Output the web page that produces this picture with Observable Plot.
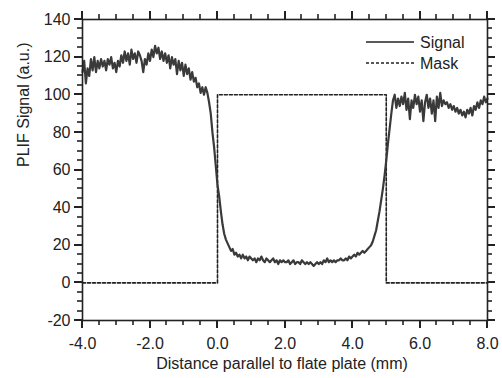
<!DOCTYPE html>
<html>
<head>
<meta charset="utf-8">
<script src="https://cdn.jsdelivr.net/npm/d3@7"></script>
<script src="https://cdn.jsdelivr.net/npm/@observablehq/plot@0.6"></script>
<style>
  html, body { margin: 0; padding: 0; background: #fff; }
  #chart { width: 502px; height: 378px; }
</style>
</head>
<body>
<div id="chart"></div>
<script>
// ---- data ----
const signalStart = -4.0;   // mm, first sample
const signalStep = 0.05;    // mm between samples
const signalY = [
  // -4.00 .. -0.05
  112,118,106,114,110,119,113,120,112,118,
  114,119,115,118,113,119,116,120,114,117,
  112,118,115,121,117,123,118,122,116,124,
  119,122,117,123,121,118,112,119,116,122,
  118,124,120,126,122,125,119,123,118,122,
  117,121,114,120,116,119,111,118,113,117,
  110,116,111,114,108,112,107,109,104,106,
  101,104,100,104,101,96,90,80,72,62,
  // 0.00 .. 1.00
  52,46,38,31,26,23,21,19,17,18,15,16,14,15,13,15,13,14,12,14,13,
  // 1.05 .. 2.00
  12,13,11,13,12,14,12,11,13,12,11,12,13,11,12,10,12,11,12,11,
  // 2.05 .. 3.00
  11,12,10,11,12,10,11,11,10,12,11,10,11,10,11,10,9,10,11,10,
  // 3.05 .. 4.00
  11,10,12,11,13,11,12,11,12,11,12,12,13,12,12,13,12,14,13,14,
  // 4.05 .. 5.00
  15,14,16,15,16,17,16,17,18,19,20,22,25,28,33,38,44,50,57,65,
  // 5.05 .. 5.20
  74,82,90,97,
  // 5.25 .. 8.00
  100,93,98,94,99,95,101,92,98,87,97,93,100,95,99,91,97,86,96,100,
  93,98,90,97,86,99,93,101,94,97,95,96,93,95,92,94,91,93,90,92,
  89,91,88,92,90,93,89,94,92,96,93,97,95,99,96,98
];
const maskX = [-4, 0, 0, 5, 5, 8];
const maskY = [0, 0, 100, 100, 0, 0];

const xMajor = [-4, -2, 0, 2, 4, 6, 8];
const xMinor = [-3.5, -3, -2.5, -1.5, -1, -0.5, 0.5, 1, 1.5, 2.5, 3, 3.5, 4.5, 5, 5.5, 6.5, 7, 7.5];
const yMajor = [-20, 0, 20, 40, 60, 80, 100, 120, 140];
const yMinor = [-15, -10, -5, 5, 10, 15, 25, 30, 35, 45, 50, 55, 65, 70, 75, 85, 90, 95, 105, 110, 115, 125, 130, 135];

const xTitle = "Distance parallel to flate plate (mm)";
const yTitle = "PLIF Signal (a.u.)";
const seriesNames = ["Signal", "Mask"];

// ---- tables ----
const signal = signalY.map((y, i) => ({x: signalStart + i * signalStep, y}));
const mask = maskX.map((x, i) => ({x, y: maskY[i]}));

const ink = "#222";
const font = "'Liberation Sans', Arial, sans-serif";

const W = 502, H = 378, mL = 82, mR = 15, mT = 19, mB = 58;
const majorLen = 8, minorLen = 5;

const chart = Plot.plot({
  width: W,
  height: H,
  marginLeft: mL,
  marginRight: mR,
  marginTop: mT,
  marginBottom: mB,
  x: {domain: [-4, 8]},
  y: {domain: [-20, 140]},
  style: {fontFamily: font, fontSize: "16px", color: ink, background: "#fff"},
  marks: [
    Plot.line(mask, {x: "x", y: "y", stroke: ink, strokeWidth: 1.6, strokeDasharray: "3,2"}),
    Plot.line(signal, {x: "x", y: "y", stroke: "#3a3a3a", strokeWidth: 2.2}),
    Plot.frame({stroke: ink, strokeWidth: 1.6}),
    Plot.axisX(xMajor, {anchor: "bottom", tickSize: 0, tickPadding: 17, tickFormat: d => d.toFixed(1), label: null}),
    Plot.axisY(yMajor, {anchor: "left", tickSize: 0, tickPadding: 12, tickFormat: d => String(d), label: null}),
    Plot.text([xTitle], {frameAnchor: "bottom", dx: -3, dy: 48, fontSize: 16, fill: ink}),
    Plot.text([yTitle], {frameAnchor: "left", dx: -59, dy: -3, rotate: -90, fontSize: 16, fill: ink})
  ]
});

document.getElementById("chart").appendChild(chart);

const svg = d3.select(chart);
const sx = chart.scale("x"), sy = chart.scale("y");
const [x0, x1] = sx.range, [yb, yt] = sy.range;   // frame edges in px

// outward tick marks on all four sides, placed through the plot's scales
const tg = svg.append("g").attr("stroke", ink).attr("fill", "none");
const addX = (values, len, w) => values.forEach(v => {
  const px = Math.round(sx.apply(v));
  tg.append("line").attr("x1", px).attr("x2", px).attr("y1", yb).attr("y2", yb + len).attr("stroke-width", w);
  tg.append("line").attr("x1", px).attr("x2", px).attr("y1", yt).attr("y2", yt - len).attr("stroke-width", w);
});
const addY = (values, len, w) => values.forEach(v => {
  const py = Math.round(sy.apply(v));
  tg.append("line").attr("y1", py).attr("y2", py).attr("x1", x0).attr("x2", x0 - len).attr("stroke-width", w);
  tg.append("line").attr("y1", py).attr("y2", py).attr("x1", x1).attr("x2", x1 + len).attr("stroke-width", w);
});
addX(xMajor, majorLen, 2);
addX(xMinor, minorLen, 1.6);
addY(yMajor, majorLen, 2);
addY(yMinor, minorLen, 1.6);

// legend (top-right, inside the frame)
const lg = svg.append("g").attr("transform", "translate(366,42)");
seriesNames.forEach((name, i) => {
  const g = lg.append("g").attr("transform", `translate(0,${i * 21})`);
  g.append("line").attr("x1", 0).attr("x2", 48).attr("y1", 0).attr("y2", 0)
    .attr("stroke", ink).attr("stroke-width", i === 0 ? 1.6 : 1.4)
    .attr("stroke-dasharray", i === 0 ? null : "3,2");
  g.append("text").attr("x", 54).attr("y", 0).attr("dy", "0.35em")
    .attr("text-anchor", "start").attr("font-family", font)
    .attr("font-size", 16).attr("fill", ink).text(name);
});
</script>
</body>
</html>
